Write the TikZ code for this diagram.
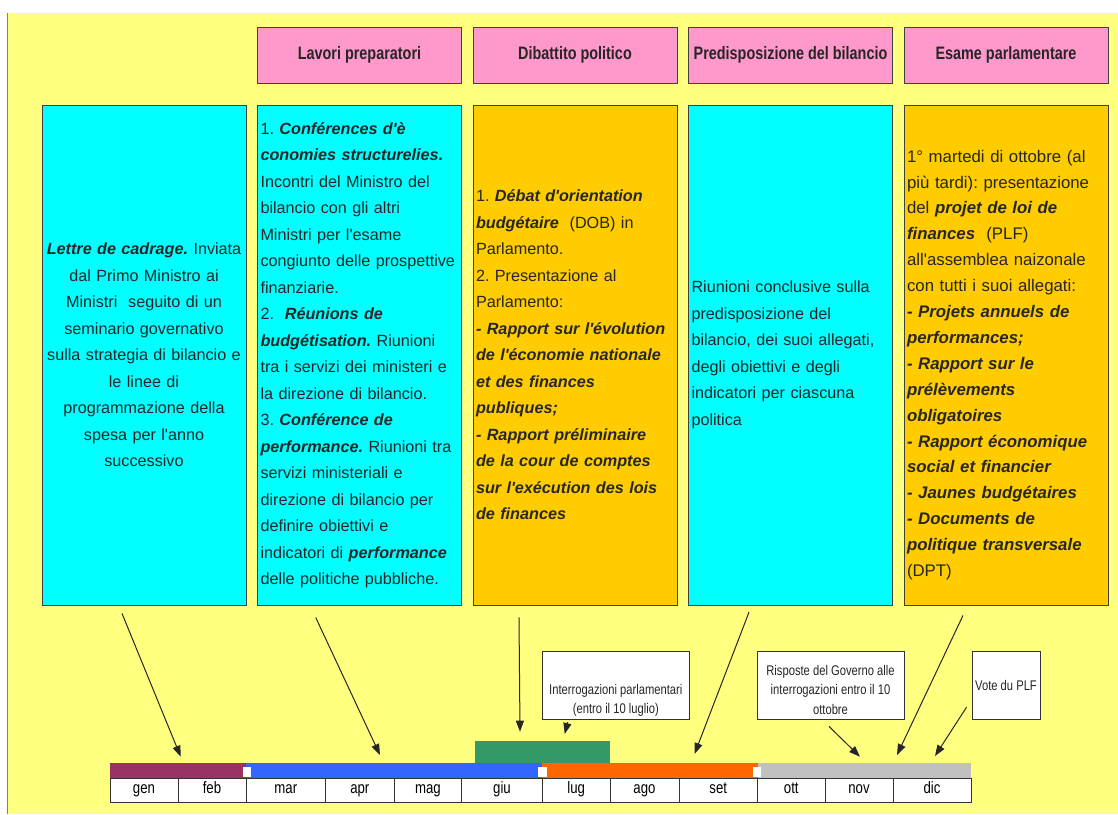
\documentclass[tikz,border=0pt]{standalone}
\usepackage{fontspec}
\setmainfont{Liberation Sans}[Ligatures=TeXOff]
\newfontfamily\narrowfont[FakeStretch=0.8,Ligatures=TeXOff]{Liberation Sans}
\usepackage{xcolor}
\usetikzlibrary{positioning,arrows.meta}

\definecolor{bgyellow}{RGB}{255,255,128}
\definecolor{headpink}{RGB}{255,153,204}
\definecolor{boxcyan}{RGB}{0,255,255}
\definecolor{boxorange}{RGB}{255,204,0}
\definecolor{barpurple}{RGB}{153,51,102}
\definecolor{barblue}{RGB}{51,102,255}
\definecolor{barorange}{RGB}{255,102,0}
\definecolor{bargrey}{RGB}{192,192,192}
\definecolor{bargreen}{RGB}{51,153,102}

\newcommand{\bfit}[1]{\textbf{\textit{#1}}}
\frenchspacing
\hyphenpenalty=10000
\exhyphenpenalty=10000

\begin{document}
\begin{tikzpicture}[
    x=1pt, y=-1pt,
    phase/.style={rectangle, draw=black!75, line width=0.9pt, minimum width=204pt, minimum height=500pt,
        text width=198pt, inner xsep=3pt, align=left, text=black!85,
        font=\fontsize{16.2}{26.5}\selectfont},
    phasetext/.style={text width=198pt, inner sep=0pt, align=left, text=black!85,
        font=\fontsize{16.8}{25.9}\selectfont},
    header/.style={rectangle, draw=black!75, line width=0.9pt, fill=headpink, minimum width=204pt,
        minimum height=56pt, text=black!85, font=\narrowfont\bfseries\fontsize{18}{22}\selectfont},
    month/.style={rectangle, draw=black!80, line width=0.9pt, fill=white, minimum height=24pt,
        inner sep=0pt, text height=11pt, text depth=3.5pt, font=\narrowfont\fontsize{16.5}{20}\selectfont},
    barpart/.style={rectangle, inner sep=0pt, minimum height=15pt},
    callout/.style={rectangle, draw=black!80, line width=0.9pt, fill=white, minimum height=68pt},
    callouttext/.style={align=center, inner sep=0pt, text=black!85,
        font=\narrowfont\fontsize{14}{19.3}\selectfont},
    arr/.style={-{Triangle[length=11pt,width=8pt]}, draw=black!85, line width=1pt}
]
\useasboundingbox (0,0) rectangle (1118,814);
% background
\fill[white] (0,0) rectangle (1118,814);
\fill[bgyellow] (7,13) rectangle (1118,814);
\draw[black!50, line width=1pt] (7,13) -- (7,814);

% phases
\node[phase, fill=boxcyan, align=center] (lettre) at (144,355)
    {\bfit{Lettre de cadrage.} Inviata\\dal Primo Ministro ai\\Ministri\ \ seguito di un\\seminario governativo\\sulla strategia di bilancio e\\le linee di\\programmazione della\\spesa per l'anno\\successivo};
\node[phase, fill=boxcyan, right=10.6pt of lettre] (prepar)
    {1. \bfit{Conférences d'è}\\
     \bfit{conomies structurelies.}\\
     Incontri del Ministro del\\
     bilancio con gli altri\\
     Ministri per l'esame\\
     congiunto delle prospettive\\
     finanziarie.\\
     2.\ \ \bfit{Réunions de}\\
     \bfit{budgétisation.} Riunioni\\
     tra i servizi dei ministeri e\\
     la direzione di bilancio.\\
     3. \bfit{Conférence de}\\
     \bfit{performance.} Riunioni tra\\
     servizi ministeriali e\\
     direzione di bilancio per\\
     definire obiettivi e\\
     indicatori di \bfit{performance}\\
     delle politiche pubbliche.};
\node[phase, fill=boxorange, right=10.6pt of prepar] (dibatt)
    {1. \bfit{Débat d'orientation}\\
     \bfit{budgétaire}\ \ (DOB) in\\
     Parlamento.\\
     2. Presentazione al\\
     Parlamento:\\
     \bfit{- Rapport sur l'évolution}\\
     \bfit{de l'économie nationale}\\
     \bfit{et des finances}\\
     \bfit{publiques;}\\
     \bfit{- Rapport préliminaire}\\
     \bfit{de la cour de comptes}\\
     \bfit{sur l'exécution des lois}\\
     \bfit{de finances}};
\node[phase, fill=boxcyan, right=10.6pt of dibatt] (predisp)
    {Riunioni conclusive sulla\\
     predisposizione del\\
     bilancio, dei suoi allegati,\\
     degli obiettivi e degli\\
     indicatori per ciascuna\\
     politica};
\node[phase, fill=boxorange, right=10.6pt of predisp] (esame) {};
\node[phasetext] (esametxt) at ([yshift=-10pt]esame.center)
    {1° martedi di ottobre (al\\
     più tardi): presentazione\\
     del \bfit{projet de loi de}\\
     \bfit{finances}\ \ (PLF)\\
     all'assemblea naizonale\\
     con tutti i suoi allegati:\\
     \bfit{- Projets annuels de}\\
     \bfit{performances;}\\
     \bfit{- Rapport sur le}\\
     \bfit{prélèvements}\\
     \bfit{obligatoires}\\
     \bfit{- Rapport économique}\\
     \bfit{social et financier}\\
     \bfit{- Jaunes budgétaires}\\
     \bfit{- Documents de}\\
     \bfit{politique transversale}\\
     (DPT)};

% headers
\node[header, above=21.1pt of prepar] (hprepar) {Lavori preparatori};
\node[header, above=21.1pt of dibatt] (hdibatt) {Dibattito politico};
\node[header, above=21.1pt of predisp] (hpredisp) {Predisposizione del bilancio};
\node[header, above=21.1pt of esame] (hesame) {Esame parlamentare};

% timeline
\node[barpart, fill=barpurple, minimum width=136pt] (pgen) at (178,770.5) {};
\node[barpart, fill=barblue, minimum width=296.3pt] (pmar) at (394.15,770.5) {};
\node[barpart, fill=barorange, minimum width=215.2pt] (plug) at (649.9,770.5) {};
\node[barpart, fill=bargrey, minimum width=213.5pt] (pott) at (864.25,770.5) {};
\node[barpart, fill=bargreen, minimum width=135pt, minimum height=22.3pt] (interrbar) at (542.5,751.85) {};
\fill[white] (242.7,766.7) rectangle (251,777);
\fill[white] (538.3,766.5) rectangle (546.7,777);
\fill[white] (752.9,766.5) rectangle (761.3,777);

\node[month, minimum width=68pt] (gen) at (144,790) {gen};
\node[month, minimum width=68pt] (feb) at (212,790) {feb};
\node[month, minimum width=79.7pt] (mar) at (285.85,790) {mar};
\node[month, minimum width=68.3pt] (apr) at (359.85,790) {apr};
\node[month, minimum width=67.7pt] (mag) at (427.85,790) {mag};
\node[month, minimum width=80.6pt] (giu) at (502,790) {giu};
\node[month, minimum width=67.7pt] (lug) at (576.15,790) {lug};
\node[month, minimum width=69pt] (ago) at (644.5,790) {ago};
\node[month, minimum width=78.5pt] (set) at (718.25,790) {set};
\node[month, minimum width=67.5pt] (ott) at (791.25,790) {ott};
\node[month, minimum width=68pt] (nov) at (859,790) {nov};
\node[month, minimum width=78pt] (dic) at (932,790) {dic};

% callouts
\node[callout, minimum width=146.3pt] (interr) at (615.85,685) {};
\node[callouttext] (interrtxt) at (615.85,700.4) {Interrogazioni parlamentari\\(entro il 10 luglio)};
\node[callout, minimum width=147pt] (risp) at (830.5,685) {};
\node[callouttext] (risptxt) at (830.5,689.8) {Risposte del Governo alle\\interrogazioni entro il 10\\ottobre};
\node[callout, minimum width=68pt, callouttext, inner xsep=1pt, draw=black!80, fill=white] (vote) at (1006,685) {Vote du PLF};

% arrows to the months
\coordinate (tgen) at (180.7,756.7);
\coordinate (tapr) at (380,755);
\coordinate (tgiu) at (520,731.7);
\coordinate (tlug) at (564.7,734);
\coordinate (tset) at (694.5,754);
\coordinate (tnov) at (860,756.7);
\coordinate (tdic) at (897,755);
\coordinate (tvote) at (935,756);
\draw[arr] ([xshift=-22pt,yshift=-8pt]lettre.south) -- (tgen);
\draw[arr] ([xshift=-43.8pt,yshift=-12pt]prepar.south) -- (tapr);
\draw[arr] ([xshift=-56pt,yshift=-12pt]dibatt.south) -- (tgiu);
\draw[arr] ([xshift=-48.2pt,yshift=-2.7pt]interr.south) -- (tlug);
\draw[arr] ([xshift=-41.5pt,yshift=-6.7pt]predisp.south) -- (tset);
\draw[arr] ([xshift=-1.5pt,yshift=-7pt]risp.south) -- (tnov);
\draw[arr] ([xshift=-43pt,yshift=-10pt]esame.south) -- (tdic);
\draw[arr] ([xshift=-5pt,yshift=12.3pt]vote.south west) -- (tvote);
\end{tikzpicture}
\end{document}
